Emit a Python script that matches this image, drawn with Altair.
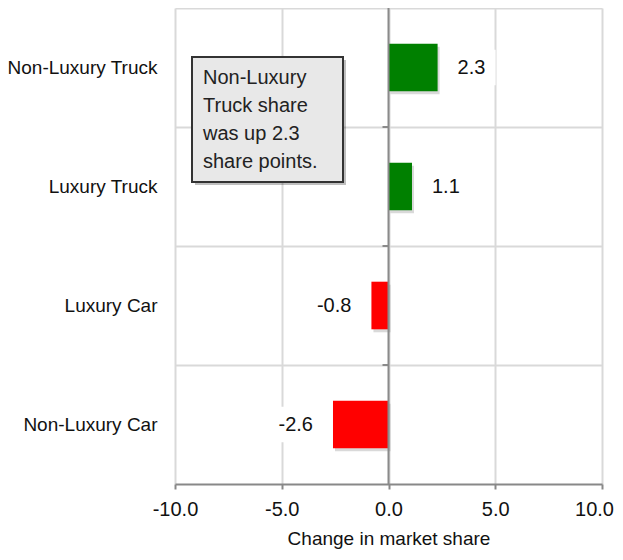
import altair as alt
import pandas as pd

CATEGORIES = ["Non-Luxury Truck", "Luxury Truck", "Luxury Car", "Non-Luxury Car"]
CHANGES = [2.3, 1.1, -0.8, -2.6]
X_TICKS = [-10, -5, 0, 5, 10]
X_TITLE = "Change in market share"
ANNOTATION = "Non-Luxury\nTruck share\nwas up 2.3\nshare points."

df = pd.DataFrame({"category": CATEGORIES, "change": CHANGES})
df["color"] = ["#008000" if v > 0 else "#ff0000" for v in CHANGES]
df["label"] = [f"{v:.1f}" for v in CHANGES]

FONT = "Liberation Sans"
XSCALE = alt.Scale(domain=[-10, 10], nice=False)

x_enc = alt.X(
    "change:Q",
    scale=XSCALE,
    axis=alt.Axis(
        values=X_TICKS, title=X_TITLE,
        labelExpr="replace(format(datum.value, '.1f'), '\u2212', '-')",
        labelFlush=False,
        labelOffset={"condition": {"test": "datum.value == 10", "value": -8}, "value": 0},
        labelFontSize=20, labelFont=FONT, labelColor="#111", labelPadding=10,
        titleFontSize=19, titleFont=FONT, titleColor="#111", titleFontWeight="normal",
        titlePadding=10,
        domainColor="#888888", domainWidth=2, tickColor="#888888", tickWidth=2, tickSize=5,
        grid=True, gridColor="#d9d9d9", gridWidth=2,
    ),
)
y_enc = alt.Y(
    "category:N", sort=CATEGORIES, title=None,
    scale=alt.Scale(paddingInner=0, paddingOuter=0),
    axis=alt.Axis(
        labelFontSize=19, labelFont=FONT, labelColor="#111", labelPadding=18,
        ticks=False, domain=False, grid=True, gridColor="#d9d9d9", gridWidth=2,
        bandPosition=0,
    ),
)

base = alt.Chart(df)

shadow = base.mark_bar(height={"band": 0.4}, color="#000000", opacity=0.15,
                       xOffset=2, x2Offset=2, yOffset=3).encode(
    x=x_enc, x2=alt.datum(0), y=y_enc)

bars = base.mark_bar(height={"band": 0.4}).encode(
    x=x_enc, x2=alt.datum(0), y=y_enc,
    color=alt.Color("color:N", scale=None))

pos = base.transform_filter("datum.change > 0")
neg = base.transform_filter("datum.change < 0")

box_pos = pos.mark_bar(height={"band": 0.3}, color="white", xOffset=8, x2Offset=58).encode(
    x=x_enc, x2="change:Q", y=y_enc)
box_neg = neg.mark_bar(height={"band": 0.3}, color="white", xOffset=-8, x2Offset=-58).encode(
    x=x_enc, x2="change:Q", y=y_enc)

txt_pos = pos.mark_text(align="left", baseline="middle", dx=20, fontSize=20,
                        font=FONT, color="#111").encode(x=x_enc, y=y_enc, text="label:N")
txt_neg = neg.mark_text(align="right", baseline="middle", dx=-20, fontSize=20,
                        font=FONT, color="#111").encode(x=x_enc, y=y_enc, text="label:N")

zero = alt.Chart(pd.DataFrame({"z": [0]})).mark_rule(color="#8a8a8a", strokeWidth=2).encode(
    x=alt.X("z:Q", scale=XSCALE))

zero_ticks = alt.Chart(pd.DataFrame({"category": CATEGORIES[1:]})).mark_rule(
    color="#8a8a8a", strokeWidth=2, xOffset=-6).encode(
    x=alt.datum(0), x2=alt.datum(0),
    y=alt.Y("category:N", sort=CATEGORIES, bandPosition=0))

ann_df = pd.DataFrame({"t": [ANNOTATION]})
ann_shadow = alt.Chart(ann_df).mark_rect(color="#000000", opacity=0.25).encode(
    x=alt.value(20), x2=alt.value(171), y=alt.value(52), y2=alt.value(177))
ann_box = alt.Chart(ann_df).mark_rect(fill="#e8e8e8", stroke="#333333", strokeWidth=2).encode(
    x=alt.value(17), x2=alt.value(168), y=alt.value(49), y2=alt.value(174))
ann_text = alt.Chart(ann_df).mark_text(
    align="left", baseline="middle", lineBreak="\n", lineHeight=28,
    fontSize=20, font=FONT, color="#222").encode(
    x=alt.value(28), y=alt.value(70), text="t:N")

chart = alt.layer(
    box_pos, box_neg, shadow, bars, zero, zero_ticks, txt_pos, txt_neg,
    ann_shadow, ann_box, ann_text
).properties(
    width=427, height=476,
    autosize=alt.AutoSizeParams(type="none"),
    padding={"left": 167, "top": 0, "right": 13, "bottom": 68},
).configure_view(stroke=None)

chart.save("out.html", embed_options={"renderer": "svg", "actions": False})
